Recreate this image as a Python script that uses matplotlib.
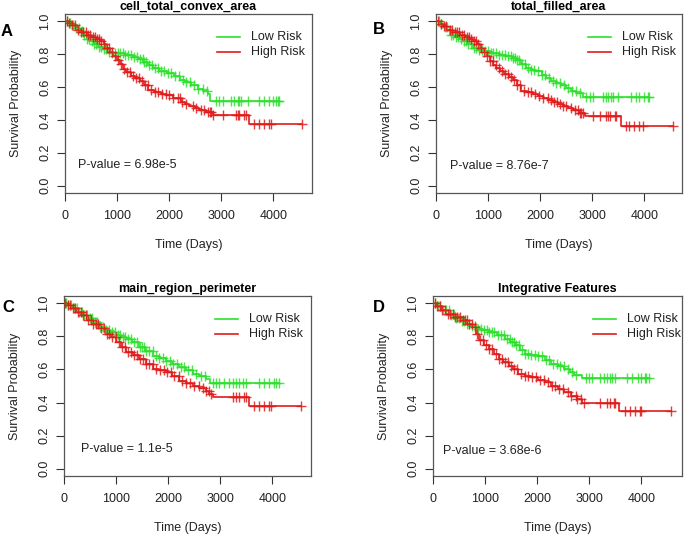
# Kaplan-Meier style panels, four features, low vs high risk
import numpy as np
import matplotlib.pyplot as plt

plt.rcParams['font.family'] = ['Liberation Sans', 'DejaVu Sans']

titles = ["cell_total_convex_area", "total_filled_area",
          "main_region_perimeter", "Integrative Features"]
letters = ["A", "B", "C", "D"]
pvalues = ["6.98e-5", "8.76e-7", "1.1e-5", "3.68e-6"]
xticks = [0, 1000, 2000, 3000, 4000]
yticks = [0.0, 0.2, 0.4, 0.6, 0.8, 1.0]

# step curves (time, survival), last time of follow-up, censor times
a_low_t = [0, 60, 130, 200, 270, 340, 414, 480, 560, 640, 720, 800, 900, 1000, 1150, 1300,
           1400, 1500, 1600, 1690, 1800, 1950, 2100, 2200, 2300, 2420, 2550, 2650, 2740, 2790]
a_low_s = [1.0, 0.99, 0.975, 0.96, 0.94, 0.92, 0.895, 0.88, 0.865, 0.845, 0.83, 0.815, 0.81,
           0.805, 0.795, 0.785, 0.77, 0.755, 0.735, 0.715, 0.70, 0.685, 0.665, 0.645, 0.63,
           0.61, 0.59, 0.575, 0.56, 0.518]
a_low_end = 4100
a_low_c = [40, 90, 150, 210, 260, 320, 370, 420, 460, 510, 560, 600, 650, 700, 740, 790, 850,
           910, 960, 1010, 1060, 1110, 1160, 1210, 1270, 1330, 1390, 1440, 1490, 1520, 1560,
           1610, 1660, 1720, 1780, 1840, 1900, 1970, 2040, 2110, 2180, 2260, 2330, 2400, 2480,
           2560, 2640, 2720, 2900, 2964, 3027, 3187, 3250, 3314, 3346, 3378, 3505, 3728, 3824,
           3920, 3983, 4047, 4078, 4100]
a_high_t = [0, 50, 120, 223, 300, 414, 500, 600, 669, 740, 796, 860, 924, 990, 1051, 1120,
            1178, 1260, 1350, 1433, 1520, 1600, 1700, 1850, 1943, 2070, 2229, 2300, 2389, 2500,
            2580, 2700, 2834, 3535]
a_high_s = [1.0, 0.99, 0.975, 0.95, 0.935, 0.92, 0.905, 0.89, 0.878, 0.86, 0.84, 0.815, 0.79,
            0.765, 0.74, 0.71, 0.69, 0.67, 0.655, 0.635, 0.61, 0.585, 0.57, 0.56, 0.553, 0.533,
            0.512, 0.495, 0.482, 0.47, 0.461, 0.45, 0.427, 0.376]
a_high_end = 4556
a_high_c = [30, 80, 140, 190, 250, 300, 350, 400, 440, 480, 530, 580, 620, 660, 700, 750, 800,
            850, 900, 960, 1020, 1080, 1130, 1190, 1240, 1300, 1360, 1420, 1470, 1530, 1590,
            1650, 1720, 1790, 1860, 1930, 2000, 2080, 2160, 2210, 2250, 2320, 2454, 2518, 2613,
            2677, 2740, 2773, 2805, 2836, 3027, 3282, 3314, 3346, 3442, 3474, 3633, 3728, 3824,
            3920, 3951, 4556]

b_low_t = [0, 70, 150, 268, 350, 440, 523, 600, 714, 800, 906, 1033, 1200, 1352, 1450, 1544,
           1640, 1735, 1830, 1927, 2030, 2118, 2210, 2309, 2400, 2501, 2600, 2692, 2820]
b_low_s = [1.0, 0.985, 0.965, 0.92, 0.905, 0.89, 0.878, 0.86, 0.837, 0.825, 0.817, 0.807,
           0.797, 0.787, 0.775, 0.766, 0.74, 0.715, 0.705, 0.695, 0.675, 0.654, 0.64, 0.624,
           0.61, 0.593, 0.578, 0.563, 0.539]
b_low_end = 4095
b_low_c = [50, 100, 170, 220, 280, 330, 380, 430, 480, 530, 570, 620, 670, 720, 770, 830, 880,
           940, 1000, 1050, 1100, 1150, 1200, 1260, 1320, 1380, 1430, 1470, 1510, 1550, 1600,
           1650, 1710, 1770, 1830, 1890, 1960, 2030, 2100, 2170, 2240, 2310, 2380, 2450, 2530,
           2610, 2690, 2760, 2884, 2947, 3010, 3202, 3267, 3298, 3362, 3394, 3490, 3745, 3841,
           3904, 4000, 4063, 4095]
b_high_t = [0, 60, 130, 204, 330, 459, 560, 640, 714, 780, 842, 900, 970, 1030, 1097, 1160,
            1225, 1300, 1400, 1480, 1560, 1640, 1750, 1863, 1960, 2054, 2150, 2246, 2340, 2437,
            2530, 2629, 2740, 2852, 3554]
b_high_s = [1.0, 0.985, 0.97, 0.95, 0.935, 0.919, 0.905, 0.89, 0.878, 0.86, 0.837, 0.815,
            0.787, 0.76, 0.736, 0.715, 0.695, 0.68, 0.66, 0.644, 0.615, 0.579, 0.57, 0.559,
            0.545, 0.533, 0.522, 0.512, 0.497, 0.482, 0.47, 0.461, 0.445, 0.421, 0.364]
b_high_end = 4542
b_high_c = [40, 90, 150, 200, 260, 310, 360, 410, 450, 500, 540, 590, 630, 680, 720, 760, 810,
            860, 920, 980, 1040, 1090, 1150, 1200, 1260, 1320, 1380, 1440, 1500, 1560, 1620,
            1690, 1760, 1830, 1900, 1980, 2060, 2140, 2200, 2260, 2330, 2380, 2437, 2501, 2597,
            2660, 2724, 2756, 2788, 2820, 3010, 3139, 3267, 3298, 3330, 3426, 3458, 3650, 3713,
            3809, 3904, 3968, 4542]

c_low_t = [0, 60, 150, 250, 364, 450, 560, 683, 780, 880, 1002, 1100, 1193, 1300, 1448, 1560,
           1703, 1820, 1959, 2080, 2214, 2340, 2469, 2600, 2724, 2800]
c_low_s = [1.0, 0.99, 0.97, 0.95, 0.929, 0.91, 0.885, 0.858, 0.84, 0.825, 0.807, 0.797, 0.787,
           0.765, 0.736, 0.71, 0.681, 0.668, 0.654, 0.635, 0.614, 0.594, 0.573, 0.558, 0.543,
           0.518]
c_low_end = 4120
c_low_c = [30, 80, 130, 190, 240, 290, 340, 390, 440, 490, 540, 590, 640, 690, 740, 800, 860,
           920, 970, 1030, 1080, 1130, 1180, 1230, 1290, 1350, 1400, 1450, 1490, 1530, 1580,
           1640, 1700, 1760, 1830, 1900, 1960, 2030, 2100, 2170, 2240, 2310, 2380, 2460, 2540,
           2620, 2700, 2852, 2916, 2979, 3075, 3171, 3234, 3298, 3362, 3426, 3490, 3745, 3841,
           3936, 4032, 4064, 4120]
c_high_t = [0, 60, 140, 236, 330, 440, 555, 680, 810, 900, 1002, 1100, 1193, 1320, 1448, 1580,
            1703, 1830, 1959, 2080, 2214, 2340, 2469, 2600, 2724, 2790, 2852, 3553]
c_high_s = [1.0, 0.99, 0.97, 0.949, 0.93, 0.9, 0.878, 0.85, 0.817, 0.795, 0.766, 0.735, 0.705,
            0.685, 0.665, 0.635, 0.604, 0.594, 0.583, 0.56, 0.533, 0.518, 0.502, 0.487, 0.472,
            0.45, 0.431, 0.380]
c_high_end = 4542
c_high_c = [20, 70, 120, 170, 220, 270, 320, 370, 420, 470, 510, 560, 610, 660, 710, 760, 820,
            870, 930, 990, 1050, 1110, 1170, 1220, 1280, 1340, 1400, 1460, 1520, 1580, 1640,
            1700, 1770, 1840, 1910, 1980, 2050, 2120, 2200, 2270, 2340, 2420, 2500, 2597, 2661,
            2724, 2788, 2820, 3234, 3298, 3362, 3458, 3490, 3649, 3745, 3841, 3936, 3968, 4542]

d_low_t = [0, 70, 170, 315, 420, 530, 630, 730, 819, 950, 1071, 1230, 1386, 1480, 1575, 1670,
           1764, 1890, 2016, 2140, 2268, 2400, 2520, 2620, 2709, 2866]
d_low_s = [1.0, 0.985, 0.96, 0.929, 0.91, 0.895, 0.878, 0.862, 0.848, 0.837, 0.827, 0.807,
           0.787, 0.767, 0.746, 0.72, 0.695, 0.688, 0.681, 0.658, 0.634, 0.62, 0.604, 0.585,
           0.567, 0.551]
d_low_end = 4140
d_low_c = [40, 90, 140, 200, 250, 300, 350, 400, 450, 500, 550, 600, 650, 700, 750, 800, 860,
           920, 980, 1030, 1080, 1130, 1180, 1240, 1300, 1360, 1420, 1470, 1510, 1550, 1600,
           1650, 1710, 1770, 1830, 1890, 1950, 2020, 2090, 2160, 2230, 2300, 2370, 2440, 2510,
           2590, 2670, 2750, 2929, 2992, 3055, 3213, 3276, 3339, 3402, 3433, 3496, 3717, 3811,
           3937, 4000, 4063, 4094, 4140]
d_high_t = [0, 60, 150, 252, 400, 567, 660, 756, 820, 882, 980, 1071, 1170, 1260, 1350, 1449,
            1540, 1638, 1760, 1890, 2010, 2142, 2270, 2394, 2520, 2646, 2760, 2866, 3578]
d_high_s = [1.0, 0.985, 0.96, 0.939, 0.92, 0.898, 0.878, 0.858, 0.815, 0.776, 0.75, 0.726,
            0.695, 0.665, 0.645, 0.624, 0.6, 0.573, 0.563, 0.553, 0.538, 0.522, 0.5, 0.482,
            0.461, 0.441, 0.42, 0.400, 0.350]
d_high_end = 4567
d_high_c = [30, 80, 130, 180, 230, 280, 330, 380, 430, 470, 520, 570, 610, 650, 700, 750, 800,
            850, 900, 960, 1020, 1080, 1140, 1200, 1260, 1320, 1380, 1440, 1500, 1560, 1620,
            1690, 1760, 1830, 1900, 1970, 2050, 2130, 2200, 2280, 2350, 2420, 2500, 2583, 2646,
            2740, 2772, 2835, 2898, 3213, 3339, 3402, 3465, 3496, 3685, 3780, 3874, 3969, 4000,
            4567]

panels = [
    (a_low_t, a_low_s, a_low_end, a_low_c, a_high_t, a_high_s, a_high_end, a_high_c),
    (b_low_t, b_low_s, b_low_end, b_low_c, b_high_t, b_high_s, b_high_end, b_high_c),
    (c_low_t, c_low_s, c_low_end, c_low_c, c_high_t, c_high_s, c_high_end, c_high_c),
    (d_low_t, d_low_s, d_low_end, d_low_c, d_high_t, d_high_s, d_high_end, d_high_c),
]

# axes boxes in pixels: left, top, right, bottom
W, H = 685, 536
boxes = [(65, 14, 312, 193), (436, 14, 682, 193), (64, 296, 311, 476), (433, 296, 682, 476)]
letter_pos = [(7, 31), (379, 30), (8, 308), (379, 308)]
pval_pos = [(250, 0.125), (268, 0.12), (333, 0.116), (190, 0.105)]
legend_x = [186, 186, 185, 194]

GREEN = '#2ee02e'
RED = '#e01b1b'
DARK = '#333333'


def surv_at(times, surv, t):
    i = np.searchsorted(times, t, side='right') - 1
    return np.asarray(surv)[i]


def draw_curve(ax, times, surv, end, cens, color):
    tt = list(times) + [end]
    ss = list(surv) + [surv[-1]]
    ax.step(tt, ss, where='post', color=color, lw=1.2, zorder=3)
    ax.plot(cens, surv_at(times, surv, cens), ls='none', marker='+', ms=7,
            mew=1.0, color=color, alpha=0.85, zorder=4)


fig = plt.figure(figsize=(W / 100, H / 100), dpi=100)

for k in range(4):
    l, t, r, b = boxes[k]
    bw, bh = r - l, b - t
    ax = fig.add_axes([l / W, 1 - b / H, bw / W, bh / H])
    lt, ls_, le, lc, ht, hs, he, hc = panels[k]
    draw_curve(ax, lt, ls_, le, lc, GREEN)
    draw_curve(ax, ht, hs, he, hc, RED)

    ax.set_xlim(0, 4740 * bw / 247)
    ax.set_ylim(-0.045, 1.045)
    ax.set_xticks(xticks)
    ax.set_xticklabels([str(x) for x in xticks])
    ax.set_yticks(yticks)
    ax.set_yticklabels([f"{y:.1f}" for y in yticks], rotation=90, va='center')
    ax.tick_params(direction='out', length=6, width=0.8, colors=DARK,
                   labelsize=9, labelcolor='#222222')
    ax.tick_params(axis='x', pad=6)
    ax.tick_params(axis='y', pad=4)
    for sp in ax.spines.values():
        sp.set_color('#555555')
        sp.set_linewidth(0.9)

    ax.set_xlabel("Time (Days)", fontsize=9, color='#222222')
    ax.xaxis.set_label_coords(0.5, -46 / bh)
    ax.set_ylabel("Survival Probability", fontsize=9, color='#222222')
    ax.yaxis.set_label_coords(-43 / bw, 0.5)
    ax.text(0.5, 1 + 7 / bh, titles[k], transform=ax.transAxes, ha='center',
            va='center', fontsize=9, fontweight='bold')

    # legend (clipped by the box like in R)
    lx = legend_x[k]
    for j, (lab, col) in enumerate([("Low Risk", GREEN), ("High Risk", RED)]):
        yy = 1 - (23 + 15 * j) / bh
        ax.plot([(lx - 34) / bw, (lx - 11) / bw], [yy, yy], transform=ax.transAxes,
                color=col, lw=1.2, clip_on=True)
        ax.text(lx / bw, yy, lab, transform=ax.transAxes, ha='left', va='center',
                fontsize=9, color='#222222', clip_on=True)

    px, py = pval_pos[k]
    ax.text(px, py, "P-value = " + pvalues[k], ha='left', va='center', fontsize=9,
            color='#222222')

    fx, fy = letter_pos[k]
    fig.text(fx / W, 1 - fy / H, letters[k], ha='center', va='center', fontsize=12,
             fontweight='bold')

fig.savefig("out.png", dpi=100)
